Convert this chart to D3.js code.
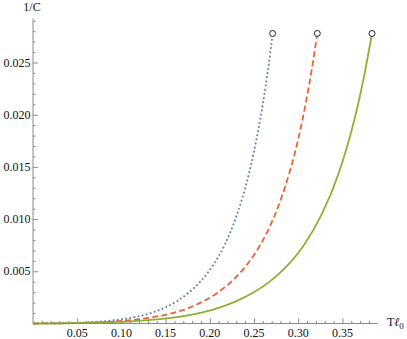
<!DOCTYPE html>
<html>
<head>
<meta charset="utf-8">
<script src="https://cdn.jsdelivr.net/npm/d3@7"></script>
<style>
  html, body { margin: 0; padding: 0; background: #fff; }
  svg { display: block; }
</style>
</head>
<body>
<svg id="chart" width="407" height="339"></svg>
<script>
// ---- data ----
const blueT   = [0, 0.0271, 0.0542, 0.0813, 0.1084, 0.1356, 0.1491, 0.1627, 0.1762, 0.1898, 0.2033, 0.2169, 0.2304, 0.2440, 0.2494, 0.2548, 0.2603, 0.2657, 0.2711];
const orangeT = [0, 0.0322, 0.0643, 0.0965, 0.1286, 0.1608, 0.1769, 0.1930, 0.2090, 0.2251, 0.2412, 0.2573, 0.2734, 0.2894, 0.2959, 0.3023, 0.3087, 0.3152, 0.3216];
const greenT  = [0, 0.0384, 0.0767, 0.1151, 0.1534, 0.1918, 0.2109, 0.2301, 0.2493, 0.2685, 0.2876, 0.3068, 0.3260, 0.3452, 0.3528, 0.3605, 0.3682, 0.3758, 0.3835];
const blueV   = [0, 0.00002, 0.00008, 0.00022, 0.00051, 0.00107, 0.00152, 0.00214, 0.00296, 0.00406, 0.00554, 0.00755, 0.01035, 0.01425, 0.01623, 0.01852, 0.02117, 0.02425, 0.02778];
const orangeV = [0, 0.00002, 0.00008, 0.00022, 0.00051, 0.00107, 0.00152, 0.00214, 0.00296, 0.00406, 0.00554, 0.00755, 0.01035, 0.01425, 0.01623, 0.01852, 0.02117, 0.02425, 0.02778];
const greenV  = [0, 0.00002, 0.00008, 0.00022, 0.00051, 0.00107, 0.00152, 0.00214, 0.00296, 0.00406, 0.00554, 0.00755, 0.01035, 0.01425, 0.01623, 0.01852, 0.02117, 0.02425, 0.02778];
const xTickLabels = ["0.05", "0.10", "0.15", "0.20", "0.25", "0.30", "0.35"];
const yTickLabels = ["0.005", "0.010", "0.015", "0.020", "0.025"];
const xMinor = [0.01,0.02,0.03,0.04,0.06,0.07,0.08,0.09,0.11,0.12,0.13,0.14,0.16,0.17,0.18,0.19,0.21,0.22,0.23,0.24,0.26,0.27,0.28,0.29,0.31,0.32,0.33,0.34,0.36,0.37,0.38];
const yMinor = [0.001,0.002,0.003,0.004,0.006,0.007,0.008,0.009,0.011,0.012,0.013,0.014,0.016,0.017,0.018,0.019,0.021,0.022,0.023,0.024,0.026,0.027,0.028,0.029];

const series = [
  { T: blueT,   V: blueV,   color: "#5E81B5", dash: "1.8,2.4" },
  { T: orangeT, V: orangeV, color: "#EB6235", dash: "6,3.2" },
  { T: greenT,  V: greenV,  color: "#8FB032", dash: null }
];

const FONT = "'Liberation Serif', 'Times New Roman', serif";

// ---- scales ----
const x = d3.scaleLinear().domain([0, 0.39]).range([33, 33 + 0.39 * 884]);
const y = d3.scaleLinear().domain([0, 0.0292]).range([323.5, 323.5 - 0.0292 * 10440]);

const svg = d3.select("#chart");
const axisColor = "#8a8a8a";
const textColor = "#111";

// curves
const line = d3.line().x(d => x(d[0])).y(d => y(d[1])).curve(d3.curveMonotoneX);
series.forEach(s => {
  const pts = s.T.map((t, i) => [t, s.V[i]]);
  svg.append("path")
    .attr("d", line(pts))
    .attr("fill", "none")
    .attr("stroke", s.color)
    .attr("stroke-width", 1.8)
    .attr("stroke-dasharray", s.dash);
});

// axes
const xAxis = d3.axisTop(x).tickValues(xTickLabels.map(Number)).tickSize(5).tickFormat("");
const gx = svg.append("g").attr("transform", `translate(0,${y(0)})`).call(xAxis);
gx.select(".domain").attr("stroke", axisColor).attr("d", `M${x(0)},0H${x(0.39)}`);
gx.selectAll(".tick line").attr("stroke", axisColor);
svg.append("g").attr("transform", `translate(0,${y(0)})`)
  .call(d3.axisTop(x).tickValues(xMinor).tickSize(2.5).tickFormat(""))
  .call(g => { g.select(".domain").remove(); g.selectAll(".tick line").attr("stroke", axisColor); });
svg.append("g").selectAll("text").data(xTickLabels).join("text")
  .attr("x", d => x(+d)).attr("y", 336.5)
  .style("font-family", FONT).attr("fill", textColor)
  .attr("text-anchor", "middle").attr("font-size", 12).text(d => d);

const yAxis = d3.axisRight(y).tickValues(yTickLabels.map(Number)).tickSize(5).tickFormat("");
const gy = svg.append("g").attr("transform", `translate(${x(0)},0)`).call(yAxis);
gy.select(".domain").attr("stroke", axisColor).attr("d", `M0,${y(0)}V${y(0.0292)}`);
gy.selectAll(".tick line").attr("stroke", axisColor);
svg.append("g").attr("transform", `translate(${x(0)},0)`)
  .call(d3.axisRight(y).tickValues(yMinor).tickSize(2.5).tickFormat(""))
  .call(g => { g.select(".domain").remove(); g.selectAll(".tick line").attr("stroke", axisColor); });
svg.append("g").selectAll("text").data(yTickLabels).join("text")
  .attr("x", 30.5).attr("y", d => y(+d) + 4)
  .style("font-family", FONT).attr("fill", textColor)
  .attr("text-anchor", "end").attr("font-size", 12).text(d => d);

// axis labels
svg.append("text").attr("x", 32).attr("y", 10.5).attr("text-anchor", "middle")
  .style("font-family", FONT).attr("fill", textColor)
  .attr("font-size", 12).text("1/C");
const xl = svg.append("text").attr("x", 387).attr("y", 326).attr("font-size", 12)
  .style("font-family", FONT).attr("fill", textColor);
xl.append("tspan").text("T");
xl.append("tspan").attr("font-style", "italic").text("ℓ");
xl.append("tspan").attr("dy", 2.5).attr("font-size", 9).text("0");

// end markers
svg.append("g").selectAll("circle").data(series).join("circle")
  .attr("cx", s => x(s.T[s.T.length - 1]))
  .attr("cy", s => y(s.V[s.V.length - 1]))
  .attr("r", 3)
  .attr("fill", "#fff")
  .attr("stroke", "#222")
  .attr("stroke-width", 1);
</script>
</body>
</html>
